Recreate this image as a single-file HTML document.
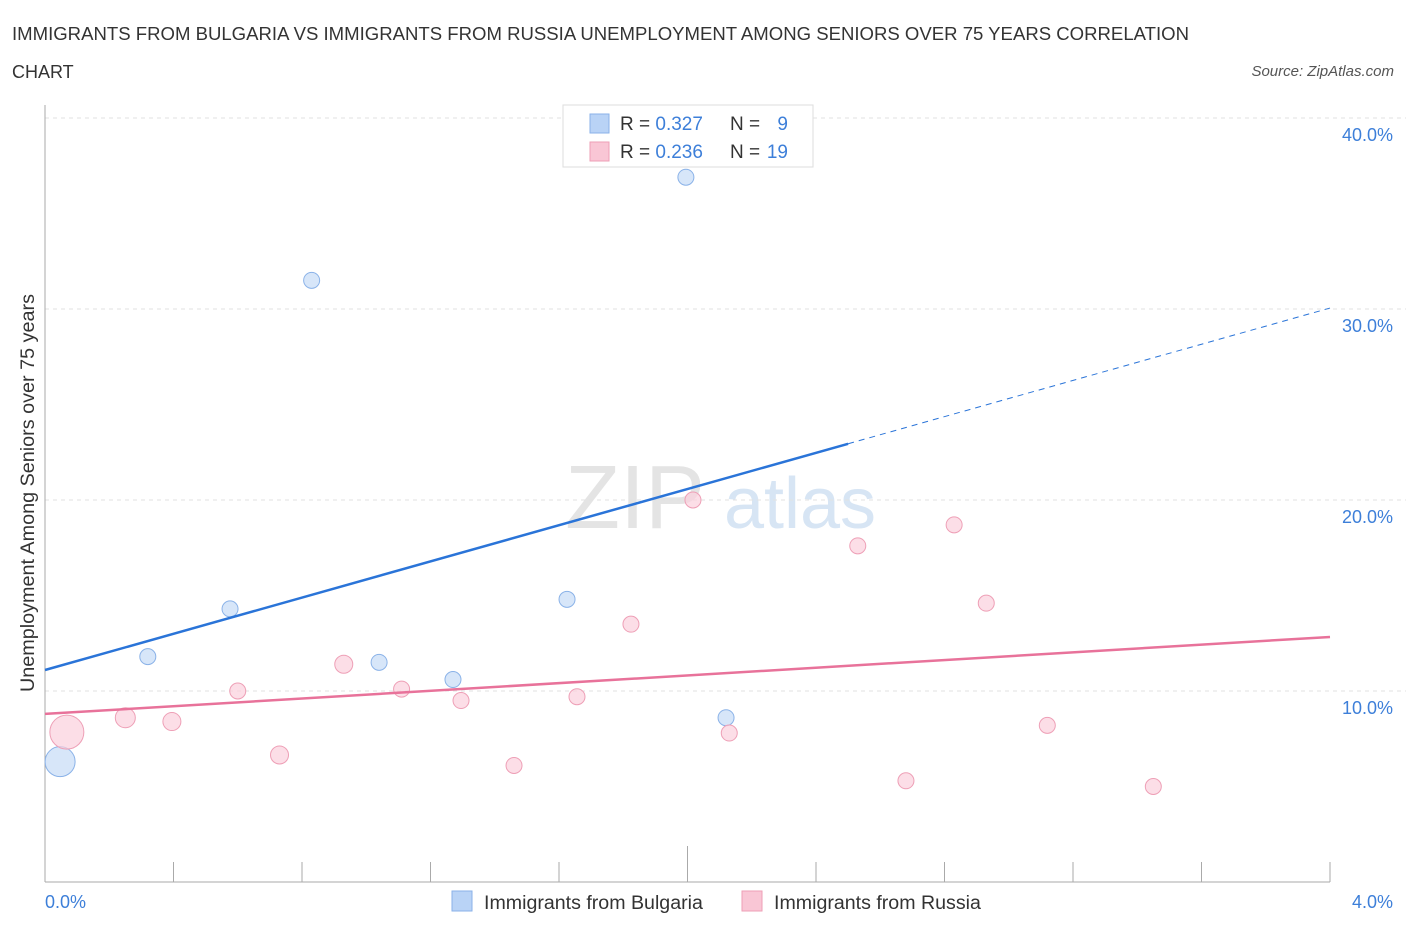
<!DOCTYPE html>
<html><head><meta charset="utf-8"><style>
body{margin:0;background:#fff;font-family:"Liberation Sans",sans-serif;}
svg text{font-family:"Liberation Sans",sans-serif;}
</style></head><body>
<svg id="chart" width="1406" height="930">
<text x="12" y="40" font-size="18" fill="#333" textLength="1177" lengthAdjust="spacingAndGlyphs">IMMIGRANTS FROM BULGARIA VS IMMIGRANTS FROM RUSSIA UNEMPLOYMENT AMONG SENIORS OVER 75 YEARS CORRELATION</text>
<text x="12" y="78" font-size="18" fill="#333">CHART</text>
<text x="1394" y="76" font-size="15" fill="#555" font-style="italic" text-anchor="end">Source: ZipAtlas.com</text>
<text x="635" y="528" font-size="90" fill="#e4e4e4" font-family="Liberation Serif" text-anchor="middle">ZIP</text>
<text x="800" y="528" font-size="72" fill="#d7e5f4" text-anchor="middle">atlas</text>
<text transform="translate(34,493) rotate(-90)" font-size="19.8" fill="#333" text-anchor="middle">Unemployment Among Seniors over 75 years</text>
<g id="grid"></g><g id="marks"></g>
<g>
<rect x="563" y="105" width="250" height="62" fill="#fff" stroke="#ddd"/>
<rect x="590" y="114" width="19" height="19" fill="#b9d3f6" stroke="#8ab2e8"/>
<text x="620" y="130" font-size="19" fill="#333">R = <tspan fill="#3d7fd9">0.327</tspan></text>
<text x="730" y="130" font-size="19" fill="#333">N =</text>
<text x="788" y="130" font-size="19" fill="#3d7fd9" text-anchor="end">9</text>
<rect x="590" y="142" width="19" height="19" fill="#f9c6d5" stroke="#ee9fb6"/>
<text x="620" y="158" font-size="19" fill="#333">R = <tspan fill="#3d7fd9">0.236</tspan></text>
<text x="730" y="158" font-size="19" fill="#333">N =</text>
<text x="788" y="158" font-size="19" fill="#3d7fd9" text-anchor="end">19</text>
</g>
<g>
<rect x="452" y="891" width="20" height="20" fill="#b9d3f6" stroke="#8ab2e8"/>
<text x="484" y="909" font-size="19.6" fill="#333">Immigrants from Bulgaria</text>
<rect x="742" y="891" width="20" height="20" fill="#f9c6d5" stroke="#ee9fb6"/>
<text x="774" y="909" font-size="19.6" fill="#333">Immigrants from Russia</text>
</g>
</svg>
<script>
const yTicks=[10,20,30,40];
const yTickLabels=["10.0%","20.0%","30.0%","40.0%"];
const xEndLabels=["0.0%","4.0%"];
const bulgariaX=[0.047,0.32,0.576,0.83,1.04,1.27,1.625,1.995,2.12];
const bulgariaY=[6.3,11.8,14.3,31.5,11.5,10.6,14.8,36.9,8.6];
const bulgariaR=[15,8,8,8,8,8,8,8,8];
const russiaX=[0.068,0.25,0.395,0.6,0.73,0.93,1.11,1.295,1.46,1.656,1.824,2.017,2.13,2.53,2.68,2.83,2.93,3.12,3.45];
const russiaY=[7.85,8.6,8.4,10.0,6.65,11.4,10.1,9.5,6.1,9.7,13.5,20.0,7.8,17.6,5.3,18.7,14.6,8.2,5.0];
const russiaR=[17,10,9,8,9,9,8,8,8,8,8,8,8,8,8,8,8,8,8];
const bulgariaTrend=[11.1,30.05];
const russiaTrend=[8.8,12.83];
const bulgariaSolidEnd=2.5;

const NS="http://www.w3.org/2000/svg";
const X=v=>45+v/4*1285, Y=v=>882-v*19.1;
function mk(t,a,p){const e=document.createElementNS(NS,t);for(const k in a)e.setAttribute(k,a[k]);p.appendChild(e);return e;}
const g=document.getElementById('grid'), m=document.getElementById('marks');
yTicks.forEach((t,i)=>{
 const l=mk('line',{x1:45,x2:1406,y1:Y(t),y2:Y(t),stroke:'#e2e2e2','stroke-dasharray':'4,4'},g);
 
 
 const tx=mk('text',{x:1393,y:Y(t)+23,'font-size':18,fill:'#3d7fd9','text-anchor':'end'},g);tx.textContent=yTickLabels[i];
 
 
});
const ax=mk('line',{x1:45,x2:45,y1:105,y2:882,stroke:'#aaa'},g);


const bx=mk('line',{x1:45,x2:1330,y1:882,y2:882,stroke:'#aaa'},g);


for(let i=0;i<=10;i++){const xv=i*0.4;const tk=mk('line',{x1:X(xv),x2:X(xv),y1:i==5?846:862,y2:882,stroke:'#aaa'},g);
 
 }
[[0,45,'start'],[4,1393,'end']].forEach((d,i)=>{const t=mk('text',{x:d[1],y:908,'font-size':18,fill:'#3d7fd9','text-anchor':d[2]},g);t.textContent=xEndLabels[i];
 
 });
function pts(xs,ys,rs,fill,stroke,name){xs.forEach((x,i)=>{const c=mk('circle',{cx:X(x),cy:Y(ys[i]),r:rs[i],fill:fill,stroke:stroke,'stroke-width':1,'fill-opacity':0.7},m);
 
 });}
pts(bulgariaX,bulgariaY,bulgariaR,'#c6dbf6','#8ab2e8','bulgaria-point');
pts(russiaX,russiaY,russiaR,'#fbd0dd','#ee9fb6','russia-point');
const bl=v=>bulgariaTrend[0]+(bulgariaTrend[1]-bulgariaTrend[0])*v/4;
const l1=mk('line',{x1:X(0),y1:Y(bl(0)),x2:X(bulgariaSolidEnd),y2:Y(bl(bulgariaSolidEnd)),stroke:'#2a74d8','stroke-width':2.5},m);


const l2=mk('line',{x1:X(bulgariaSolidEnd),y1:Y(bl(bulgariaSolidEnd)),x2:X(4),y2:Y(bl(4)),stroke:'#2a74d8','stroke-width':1,'stroke-dasharray':'6,5'},m);


const l3=mk('line',{x1:X(0),y1:Y(russiaTrend[0]),x2:X(4),y2:Y(russiaTrend[1]),stroke:'#e8729a','stroke-width':2.5},m);


</script>
</body></html>
